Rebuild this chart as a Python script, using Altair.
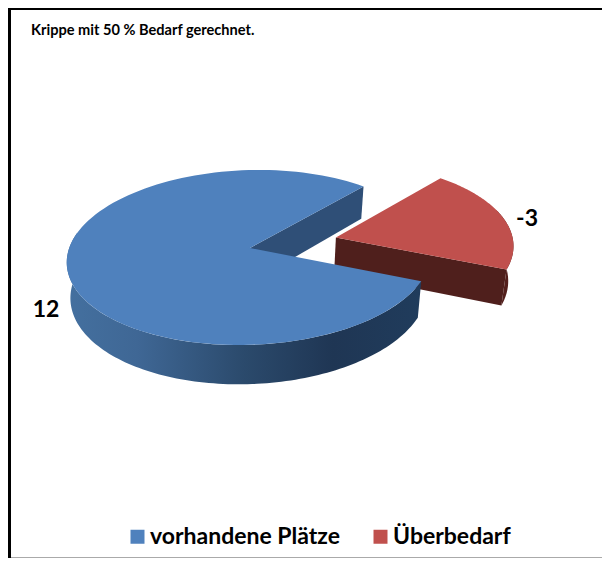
import numpy as np
import altair as alt

# ---- chart values
categories = ["vorhandene Plätze", "Überbedarf"]
values = [12, -3]
value_labels = ["12", "-3"]
colors = ["#4f81bd", "#c0504d"]
title_text = "Krippe mit 50 % Bedarf gerechnet."

# ---- 3D pie camera (page pixels -> view pixels)
CX, CY, A, B, C, K, DEPTH, SHRINK = 250, 248, 180.8, 86.5, -10.1, 0.1086, 35, 0.98
MARGIN = 8
W, H = 594, 550


def proj(u, v, down=False):
    w = 1 - K * v
    x = CX + (A * u + C * v) / w
    y = CY + B * v / w
    if down:
        x = CX + (x - CX) * SHRINK
        y = y + DEPTH / w
    return [round(float(x - MARGIN), 2), round(float(y - MARGIN), 2)]


def rim(a0, a1, ox=0.0, oy=0.0, r=1.0, down=False):
    ts = np.radians(np.linspace(a0, a1, 121))
    return [proj(ox + r * np.cos(t), oy + r * np.sin(t), down) for t in ts]


def feature(ring, name):
    ring = ring + [ring[0]]
    return {"type": "Feature", "properties": {"name": name},
            "geometry": {"type": "Polygon", "coordinates": [ring]}}


total = sum(abs(v) for v in values)
sweep = 360 * abs(values[1]) / total
start, end = -50.4, -50.4 + sweep          # red wedge, angles clockwise from east
mid = np.radians((start + end) / 2)
ox, oy = 0.49 * np.cos(mid), 0.49 * np.sin(mid)
RED_R = 0.99

# blue pieces
blue_top = feature([proj(0, 0)] + rim(end, start + 360), categories[0])
blue_side = feature(rim(end, 190) + rim(end, 190, down=True)[::-1], categories[0])
tip = (np.cos(np.radians(start)), np.sin(np.radians(start)))
blue_wall = feature([proj(0, 0), proj(*tip), proj(*tip, down=True), proj(0, 0, down=True)], categories[0])

# red pieces
red_top = feature([proj(ox, oy)] + rim(start, end, ox, oy, RED_R), categories[1])
red_side = feature(rim(-20, end, ox, oy, RED_R) + rim(-20, end, ox, oy, RED_R, down=True)[::-1], categories[1])
tip2 = (ox + RED_R * np.cos(np.radians(end)), oy + RED_R * np.sin(np.radians(end)))
red_wall = feature([proj(ox, oy), proj(*tip2), proj(*tip2, down=True), proj(ox, oy, down=True)], categories[1])

PROJECTION = dict(type="identity", scale=1, translate=[0, 0])


def shape(feat, **mark):
    return alt.Chart(alt.Data(values=[feat])).mark_geoshape(strokeWidth=0, **mark).project(**PROJECTION)


blue_gradient = alt.LinearGradient(
    gradient="linear", x1=0, x2=1, y1=0, y2=0,
    stops=[
        alt.GradientStop(offset=0.0, color="#44709f"),
        alt.GradientStop(offset=0.2, color="#3f6795"),
        alt.GradientStop(offset=0.5, color="#2b4a6c"),
        alt.GradientStop(offset=0.75, color="#1f3654"),
        alt.GradientStop(offset=1.0, color="#203c5c"),
    ],
)

tops = (
    alt.Chart(alt.Data(values=[blue_top, red_top]))
    .mark_geoshape(strokeWidth=0)
    .encode(
        color=alt.Color(
            "properties.name:N",
            scale=alt.Scale(domain=categories, range=colors),
            legend=alt.Legend(
                title=None, orient="none", legendX=118, legendY=517, direction="horizontal",
                symbolType="square", symbolSize=196, symbolStrokeWidth=0, symbolOpacity=1,
                labelFont="Lato", labelFontSize=23, labelFontWeight="bold", labelColor="black",
                labelOffset=1, columnPadding=29, labelLimit=400,
            ),
        )
    )
    .project(**PROJECTION)
)

labels = alt.Chart(alt.Data(values=[
    {"t": value_labels[0], "px": 46 - MARGIN, "py": 310 - MARGIN},
    {"t": value_labels[1], "px": 527 - MARGIN, "py": 219 - MARGIN},
])).mark_text(font="Lato", fontSize=23, fontWeight="bold", color="black", align="center", baseline="middle").encode(
    x=alt.X("px:Q", scale=None), y=alt.Y("py:Q", scale=None), text="t:N"
)

heading = alt.Chart(alt.Data(values=[{"t": title_text}])).mark_text(
    font="Lato", fontSize=14.6, fontWeight="bold", color="black", align="left", baseline="alphabetic"
).encode(x=alt.value(31 - MARGIN), y=alt.value(35 - MARGIN), text="t:N")


def bar(x0, x1, y0, y1, color):
    return alt.Chart(alt.Data(values=[{"a": 0}])).mark_rect(color=color).encode(
        x=alt.value(x0), x2=alt.value(x1), y=alt.value(y0), y2=alt.value(y1))


chart = alt.layer(
    bar(0, W, 0, 2, "black"),
    bar(0, 3, 0, H, "black"),
    bar(3, W, H - 1, H, "#aaaaaa"),
    shape(red_side, fill="#531f1c"),
    shape(red_wall, fill="#4f1f1c"),
    shape(blue_wall, fill="#2f4f77"),
    shape(blue_side, fill=blue_gradient),
    tops,
    labels,
    heading,
).properties(width=W, height=H, padding=0, autosize=alt.AutoSizeParams(type="none")).configure_view(stroke=None)

chart.save("out.html", embed_options={"renderer": "svg", "actions": False})
